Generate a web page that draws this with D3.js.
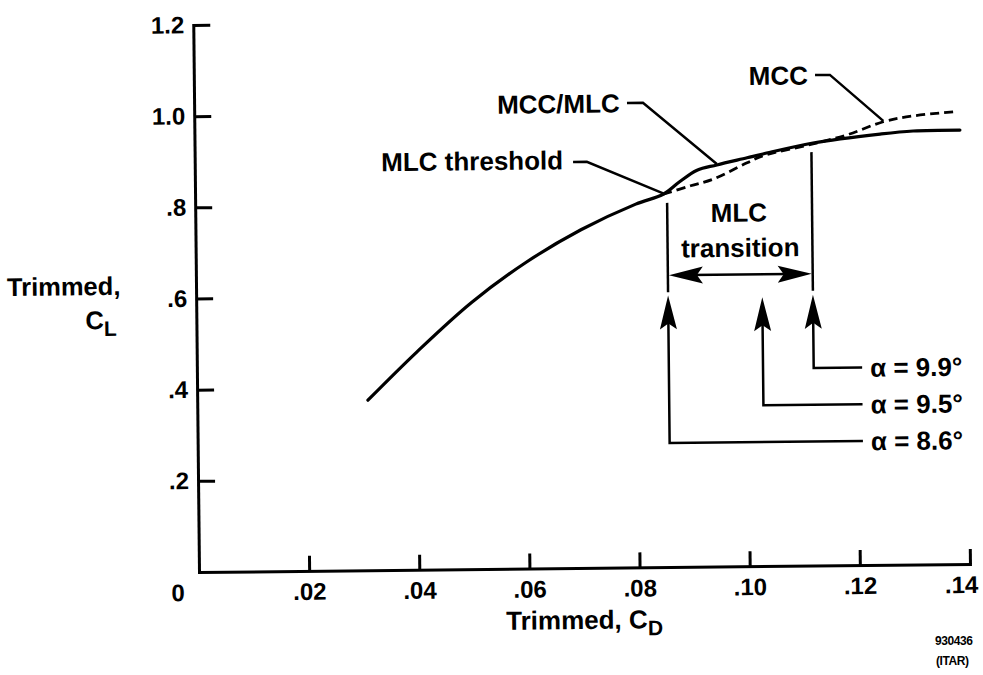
<!DOCTYPE html>
<html><head><meta charset="utf-8">
<script src="https://cdn.jsdelivr.net/npm/d3@7"></script>
<style>
body{margin:0;background:#fff;}
svg text{font-family:"Liberation Sans",Arial,Helvetica,sans-serif;font-weight:bold;fill:#000;}
</style></head><body>
<svg id="chart" width="983" height="675"></svg>
<script>
// ---- data ----
const cdTicks = [0.02, 0.04, 0.06, 0.08, 0.10, 0.12, 0.14];
const cdTickLabels = [".02", ".04", ".06", ".08", ".10", ".12", ".14"];
const clTicks = [0.2, 0.4, 0.6, 0.8, 1.0, 1.2];
const clTickLabels = [".2", ".4", ".6", ".8", "1.0", "1.2"];

// MCC/MLC (solid)
const mlcCD = [0.031, 0.040, 0.050, 0.060, 0.070, 0.080, 0.085, 0.088, 0.0912, 0.0948, 0.1003, 0.1032, 0.1123, 0.1245, 0.1305, 0.139];
const mlcCL = [0.373, 0.478, 0.585, 0.672, 0.742, 0.797, 0.818, 0.845, 0.870, 0.881, 0.896, 0.904, 0.927, 0.945, 0.951, 0.952];
// MCC (dashed)
const mccCD = [0.085, 0.090, 0.0941, 0.1003, 0.1032, 0.1123, 0.1185, 0.1251, 0.1305, 0.1378];
const mccCL = [0.818, 0.836, 0.850, 0.885, 0.900, 0.925, 0.944, 0.972, 0.984, 0.992];

// alpha markers
const alphaLabels = ["\u03B1 = 8.6\u00B0", "\u03B1 = 9.5\u00B0", "\u03B1 = 9.9\u00B0"];
const alphaCD = [0.0857, 0.1028, 0.1120];
const alphaTipCL = [0.596, 0.590, 0.594];
const alphaLeaderCL = [0.272, 0.353, 0.4335];
const alphaLeaderEndCD = 0.1208;

// ---- drawing ----
const svg = d3.select("#chart");
const g = svg.append("g").attr("transform", "rotate(-0.6,199,572)");
const x = d3.scaleLinear().domain([0, 0.14]).range([199, 970]);
const y = d3.scaleLinear().domain([0, 1.2]).range([572, 25]);
const FONT = "Liberation Sans, Arial, Helvetica, sans-serif";

// axes
const ya = g.append("g").attr("transform", `translate(${x(0)},0)`)
  .call(d3.axisLeft(y).tickValues(clTicks).tickFormat((d, i) => clTickLabels[i])
    .tickSizeInner(-17).tickSizeOuter(0).tickPadding(9));
const xa = g.append("g").attr("transform", `translate(0,${y(0)})`)
  .call(d3.axisBottom(x).tickValues(cdTicks).tickFormat((d, i) => cdTickLabels[i])
    .tickSizeInner(-15).tickSizeOuter(0).tickPadding(12));
[ya, xa].forEach(a => {
  a.attr("font-family", FONT).attr("font-size", 24).attr("font-weight", "bold");
  a.selectAll("path.domain").attr("stroke", "#000").attr("stroke-width", 3).attr("stroke-linecap", "square");
  a.selectAll(".tick line").attr("stroke", "#000").attr("stroke-width", 3);
});
xa.selectAll(".tick text").filter(d => d === 0.14).attr("dx", -9);
g.append("text").attr("x", x(0) - 21).attr("y", y(0) + 29).attr("text-anchor", "middle")
  .attr("font-size", 24).text("0");

// curves
const line = d3.line().x(d => x(d[0])).y(d => y(d[1])).curve(d3.curveCatmullRom.alpha(0.5));
g.append("path").datum(mccCD.map((c, i) => [c, mccCL[i]]))
  .attr("d", line).attr("fill", "none").attr("stroke", "#000").attr("stroke-width", 2.8)
  .attr("stroke-dasharray", "9,5");
g.append("path").datum(mlcCD.map((c, i) => [c, mlcCL[i]]))
  .attr("d", line).attr("fill", "none").attr("stroke", "#000").attr("stroke-width", 3.2)
  .attr("stroke-linecap", "round");

// helpers
function poly(pts, w) {
  g.append("path").attr("d", d3.line()(pts.map(p => [x(p[0]), y(p[1])])))
    .attr("fill", "none").attr("stroke", "#000").attr("stroke-width", w || 2.5);
}
function arrowHead(px, py, dir) {
  const L = 34, W = 8.5;
  let pts;
  if (dir === "up") pts = [[px, py], [px - W, py + L], [px, py + L - 6], [px + W, py + L]];
  else if (dir === "left") pts = [[px, py], [px + L, py - W], [px + L - 6, py], [px + L, py + W]];
  else pts = [[px, py], [px - L, py - W], [px - L + 6, py], [px - L, py + W]];
  g.append("path").attr("d", d3.line()(pts) + "Z").attr("fill", "#000");
}

// leaders to labels
poly([[0.1128, 1.076], [0.1155, 1.076], [0.1251, 0.974]]);
poly([[0.0786, 1.019], [0.0815, 1.019], [0.0948, 0.883]]);
poly([[0.0687, 0.891], [0.0712, 0.891], [0.0850, 0.820]]);

function label(cd, cl, txt, anchor, size) {
  return g.append("text").attr("x", x(cd)).attr("y", y(cl)).attr("dy", "0.36em")
    .attr("text-anchor", anchor).attr("font-size", size || 26).text(txt);
}
label(0.1115, 1.076, "MCC", "end");
label(0.0773, 1.019, "MCC/MLC", "end");
label(0.0669, 0.8956, "MLC threshold", "end");
g.append("text").attr("x", x(0.0987)).attr("y", y(0.756)).attr("text-anchor", "middle").attr("font-size", 26).text("MLC");
g.append("text").attr("x", x(0.0989)).attr("y", y(0.679)).attr("text-anchor", "middle").attr("font-size", 26).text("transition");

// transition bounds (vertical lines from curve)
poly([[0.0857, 0.799], [0.0857, 0.603]]);
poly([[0.1120, 0.907], [0.1120, 0.603]]);
// double arrow
poly([[0.0857 + 0.004, 0.64], [0.1120 - 0.004, 0.64]]);
arrowHead(x(0.0857) + 1, y(0.64), "left");
arrowHead(x(0.1120) - 1, y(0.64), "right");

// alpha arrows
alphaCD.forEach((cd, i) => {
  poly([[cd, alphaTipCL[i] - 0.05], [cd, alphaLeaderCL[i]], [alphaLeaderEndCD, alphaLeaderCL[i]]]);
  arrowHead(x(cd), y(alphaTipCL[i]), "up");
  g.append("text").attr("x", x(alphaLeaderEndCD) + 8).attr("y", y(alphaLeaderCL[i])).attr("dy", "0.36em")
    .attr("font-size", 26).text(alphaLabels[i]);
});

// axis titles
g.append("text").attr("x", 10).attr("y", 294).attr("font-size", 25.5).text("Trimmed,");
g.append("text").attr("x", 88).attr("y", 328).attr("font-size", 25.5).text("C")
  .append("tspan").attr("dy", 7).attr("font-size", 21).text("L");
const xt = g.append("text").attr("x", 584).attr("y", 633).attr("text-anchor", "middle").attr("font-size", 26);
xt.append("tspan").text("Trimmed, C");
xt.append("tspan").attr("dy", 7).attr("font-size", 21).text("D");

svg.append("text").attr("x", 935).attr("y", 645).attr("font-size", 12).attr("letter-spacing", -0.4).text("930436");
svg.append("text").attr("x", 936).attr("y", 665).attr("font-size", 12).attr("letter-spacing", -0.4).text("(ITAR)");
</script>
</body></html>
